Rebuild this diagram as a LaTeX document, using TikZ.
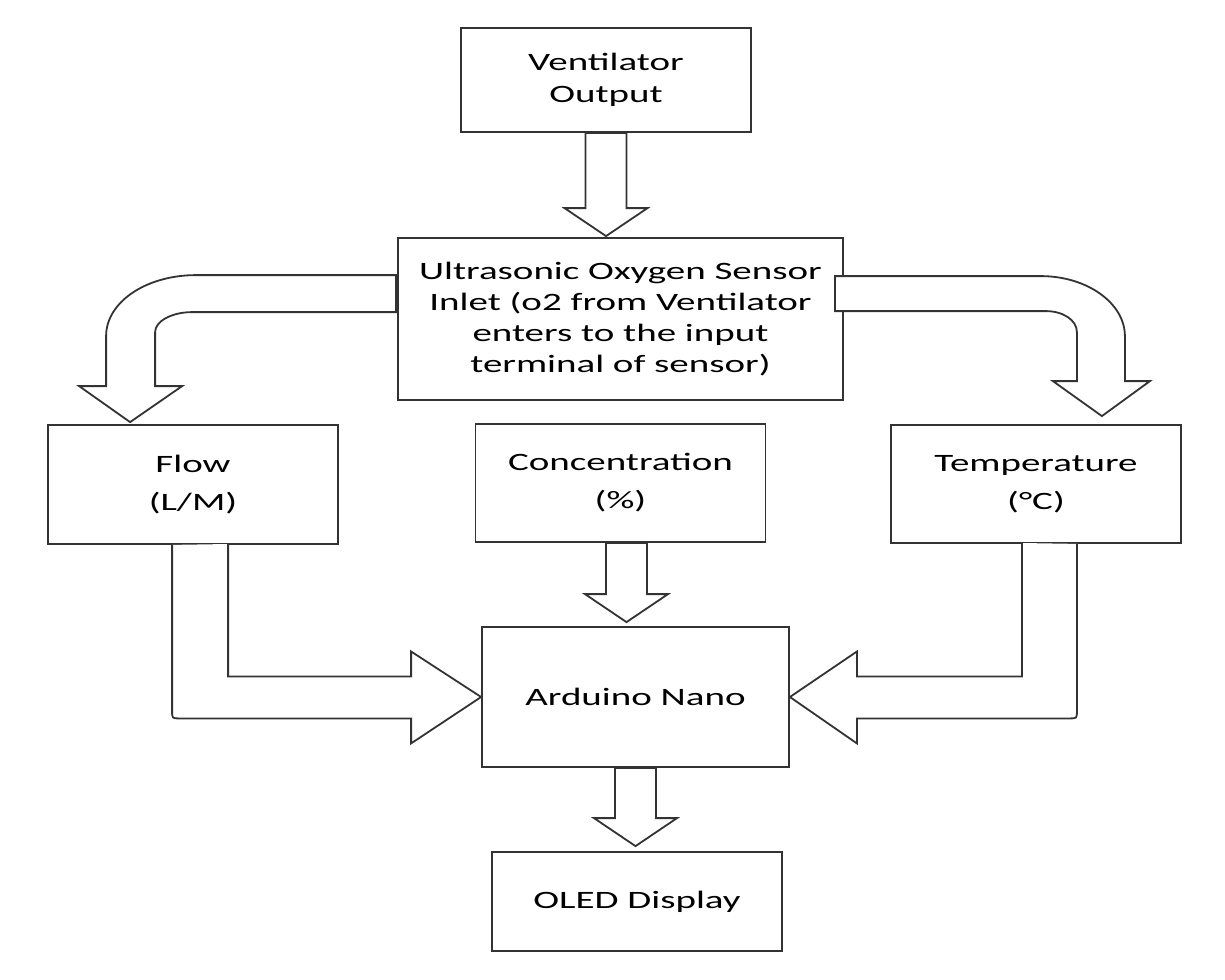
\documentclass[tikz,border=0pt]{standalone}
\usepackage{fontspec}
\setmainfont{Carlito}[FakeStretch=1.56]
\usetikzlibrary{calc, positioning}
\tikzset{x = 1pt, y = -1pt,
         box/.style = {draw = black!80, line width = 1.8pt, align = center,
                       inner sep = 0pt, minimum width = 290, minimum height = 118,
                       font = \fontsize{25}{38}\selectfont},
         block/.style = {draw = black!80, fill = white, line width = 1.8pt,
                         line join = miter}}
\newcommand{\blockdown}[4]{%
  \draw[block] let \p1 = (#1), \p2 = (#2) in
    (\x1+#3-20.5pt, \y1) -- (\x1+#3-20.5pt, \y2+#4+28pt) -- (\x1+#3-41.5pt, \y2+#4+28pt)
    -- (\x1+#3, \y2+#4) -- (\x1+#3+41.5pt, \y2+#4+28pt) -- (\x1+#3+20.5pt, \y2+#4+28pt)
    -- (\x1+#3+20.5pt, \y1) -- cycle;}

\begin{document}
\begin{tikzpicture}
    \useasboundingbox (0, 0) rectangle (1225, 979);

    \node[box, minimum height = 104, font = \fontsize{25}{32}\selectfont]
                      (vent)   at (606, 80)    {Ventilator\\Output};
    \node[box, minimum width = 445, minimum height = 162, font = \fontsize{25}{31}\selectfont]
                      (sensor) at (620.5, 319) {Ultrasonic Oxygen Sensor\\Inlet (o2 from Ventilator\\enters to the input\\terminal of sensor)};
    \node[box, minimum height = 119]
                      (flow)   at (193, 484.5) {Flow\\(L/M)};
    \node[box]        (conc)   at (620.5, 483) {Concentration\\(\%)};
    \node[box]        (temp)   at (1036, 484)  {Temperature\\(°C)};
    \node[box, minimum width = 307, minimum height = 140]
                      (nano)   at (635.5, 697) {Arduino Nano};
    \node[box, minimum height = 99]
                      (oled)   at (637, 901.5) {OLED Display};

    \coordinate (flowtip) at ($(flow.north west)+(83, -2)$);
    \coordinate (temptip) at ($(temp.north east)+(-80, -8)$);
    \coordinate (flowout) at ([xshift = 125pt]flow.south west);
    \coordinate (tempout) at ([xshift = -105pt]temp.south east);

    \blockdown{vent.south}{sensor.north}{0pt}{1pt}
    \blockdown{conc.south}{nano.north}{6pt}{4pt}
    \blockdown{nano.south}{oled.north}{0pt}{5pt}

    \draw[block] (flowtip) -- ++(52, -36) -- ++(-27, 0) -- ++(0, -54)
        .. controls +(0, -11) and +(-20, 0) .. ++(37, -20) -- ++(204, 0) -- ++(0, -37)
        -- ++(-200, 0) .. controls +(-50, 0) and +(0, -34) .. ++(-90, 61)
        -- ++(0, 50) -- ++(-27, 0) -- cycle;
    \draw[block] (temptip) -- ++(-49, -35) -- ++(24, 0) -- ++(0, -49)
        .. controls +(0, -12) and +(17, 0) .. ++(-31, -21) -- ++(-211, 0) -- ++(0, -35)
        -- ++(206, 0) .. controls +(46, 0) and +(0, -33) .. ++(84, 60)
        -- ++(0, 45) -- ++(25, 0) -- cycle;

    \draw[block] (flowout) -- ++(0, 166) .. controls +(0, 7.5) .. ++(7.5, 7.5)
        -- ++(231.5, 0) -- ++(0, 25) -- (nano.west) -- ++(-70, -45.5) -- ++(0, 25)
        -- ++(-183, 0) -- ++(0, -132.5);
    \draw[block] (tempout) -- ++(0, 167) .. controls +(0, 7.5) .. ++(-7.5, 7.5)
        -- ++(-212.5, 0) -- ++(0, 25) -- (nano.east) -- ++(67, -45.5) -- ++(0, 25)
        -- ++(165, 0) -- ++(0, -133.5);
\end{tikzpicture}
\end{document}
